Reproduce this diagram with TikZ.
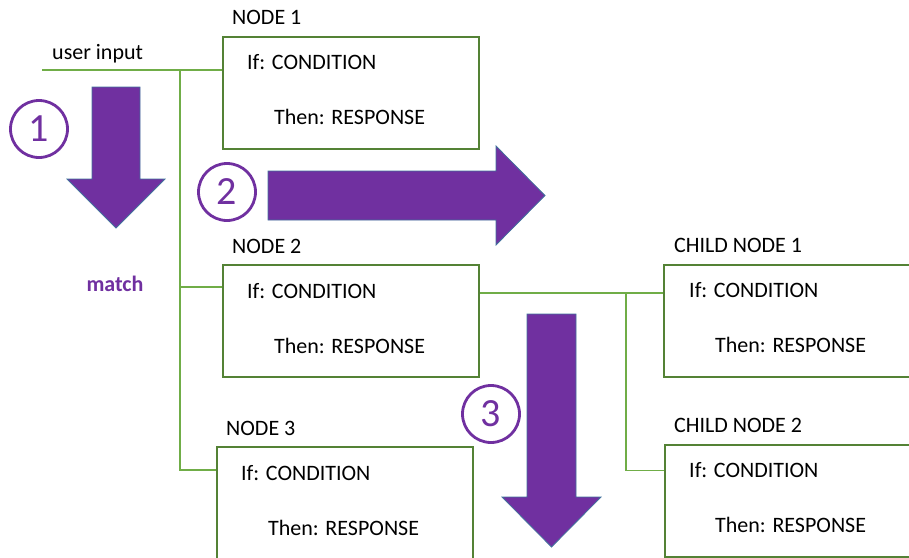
\documentclass[tikz,border=0pt]{standalone}
\usepackage{fontspec}
\setmainfont{Carlito}
\usetikzlibrary{calc,backgrounds}
\definecolor{boxgreen}{HTML}{548235}
\definecolor{wiregreen}{HTML}{70AD47}
\definecolor{mpurple}{HTML}{7030A0}
\definecolor{arrowedge}{HTML}{41719C}
\tikzset{
  box/.style={draw=boxgreen, fill=white, line width=2pt, minimum width=256pt, minimum height=112pt, inner sep=0pt},
  wire/.style={draw=wiregreen, line width=1.8pt},
  lbl/.style={anchor=base west, inner sep=0pt, font=\fontsize{22}{26}\selectfont},
  badge/.style={circle, draw=mpurple, line width=2.8pt, minimum size=57pt, inner sep=0pt, text=mpurple, font=\fontsize{40}{44}\selectfont},
  blockarrow/.style={fill=mpurple, draw=arrowedge, line width=0.8pt}
}
\begin{document}
\begin{tikzpicture}[x=1pt,y=-1pt]
\useasboundingbox (0,0) rectangle (909,557);
\clip (0,0) rectangle (909,557);
\node[box] (n1) at (351,92.5) {}; % node 1
\node[box] (n2) at (351,321) {}; % node 2
\node[box] (n3) at (345,503) {}; % node 3
\node[box] (c1) at (792,320.5) {}; % child node 1
\node[box] (c2) at (793,500.5) {}; % child node 2
% wires
\coordinate (ui) at (42,70);
\coordinate (tr) at (180,70);
\coordinate (ct) at (626,0);
\coordinate (j2) at ($(n2.north west)+(0,23)$);
\coordinate (j3) at ($(n3.north west)+(0,24)$);
\coordinate (k1) at ($(n2.north east)+(0,29)$);
\coordinate (k2) at ($(c2.north west)+(0,27)$);
\begin{scope}[on background layer]
\draw[wire] (ui) -- (ui -| n1.west);
\draw[wire] (tr) |- (j3);
\draw[wire] (j2 -| tr) -- (j2);
\draw[wire] (k1) -- (k1 -| c1.west);
\draw[wire] (k1 -| ct) |- (k2);
\end{scope}
% texts
\node[lbl] (uitext) at (52,59) {user input};
\node[lbl] (n1name) at ($(n1.north west)+(10,-11)$) {NODE 1};
\node[lbl] (n1if) at ($(n1.north west)+(25,34)$) {If: CONDITION};
\node[lbl] (n1then) at ($(n1.north west)+(52,89)$) {Then: RESPONSE};
\node[lbl] (n2name) at ($(n2.north west)+(10,-11)$) {NODE 2};
\node[lbl] (n2if) at ($(n2.north west)+(25,34)$) {If: CONDITION};
\node[lbl] (n2then) at ($(n2.north west)+(52,89)$) {Then: RESPONSE};
\node[lbl] (n3name) at ($(n3.north west)+(10,-11)$) {NODE 3};
\node[lbl] (n3if) at ($(n3.north west)+(25,34)$) {If: CONDITION};
\node[lbl] (n3then) at ($(n3.north west)+(52,89)$) {Then: RESPONSE};
\node[lbl] (c1name) at ($(c1.north west)+(11,-11)$) {CHILD NODE 1};
\node[lbl] (c1if) at ($(c1.north west)+(26,34)$) {If: CONDITION};
\node[lbl] (c1then) at ($(c1.north west)+(52,89)$) {Then: RESPONSE};
\node[lbl] (c2name) at ($(c2.north west)+(10,-11)$) {CHILD NODE 2};
\node[lbl] (c2if) at ($(c2.north west)+(25,34)$) {If: CONDITION};
\node[lbl] (c2then) at ($(c2.north west)+(51,89)$) {Then: RESPONSE};
\node[lbl, anchor=base, font=\fontsize{22}{26}\selectfont\bfseries, text=mpurple] (match) at (115,291) {match};
% block arrows
\draw[blockarrow] (92,87) -- (140,87) -- (140,179) -- (165,179) -- (116,228) -- (67,179) -- (92,179) -- cycle; % step 1
\draw[blockarrow] (268,171) -- (496,171) -- (496,146) -- (545,195.5) -- (496,245) -- (496,220) -- (268,220) -- cycle; % step 2
\draw[blockarrow] (527,314) -- (576,314) -- (576,497) -- (601,497) -- (551.5,547) -- (502,497) -- (527,497) -- cycle; % step 3
% badges
\node[badge] (b1) at (39,129) {1};
\node[badge] (b2) at (227,192) {2};
\node[badge] (b3) at (491,414) {3};
\end{tikzpicture}
\end{document}
